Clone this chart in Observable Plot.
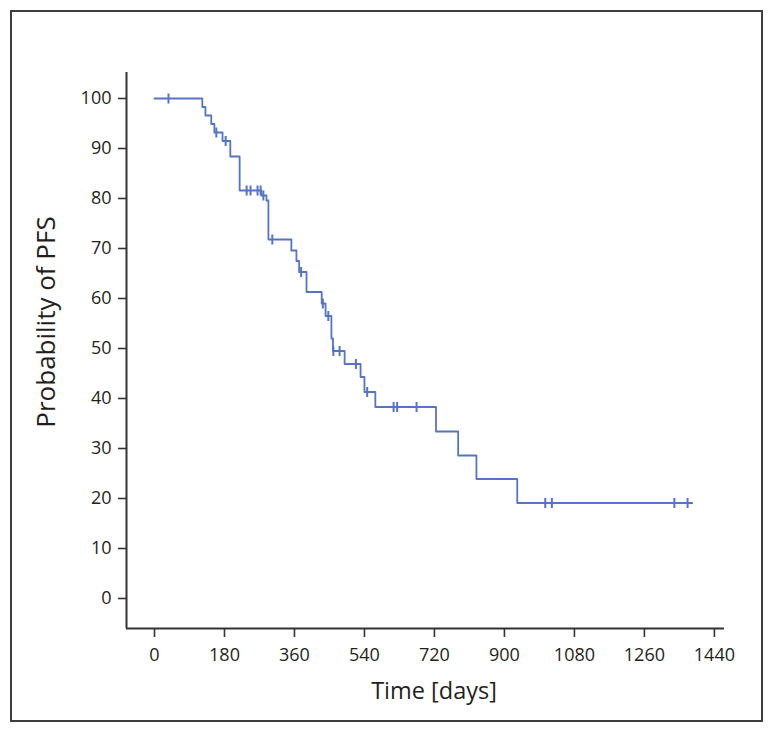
<!DOCTYPE html>
<html>
<head>
<meta charset="utf-8">
<script src="https://cdn.jsdelivr.net/npm/d3@7"></script>
<script src="https://cdn.jsdelivr.net/npm/@observablehq/plot@0.6"></script>
<style>
  html, body { margin: 0; padding: 0; background: #fff; }
  #wrap { position: relative; width: 773px; height: 734px; }
  #border { position: absolute; left: 10px; top: 10px; width: 753px; height: 712px; box-sizing: border-box; border: 2px solid #3d3d3d; pointer-events: none; }
  #chart { position: absolute; left: 0; top: 0; }
</style>
</head>
<body>
<div id="wrap"><div id="chart"></div><div id="border"></div></div>
<script>
// Kaplan–Meier step curve (time in days, PFS in %)
const stepDays = [0, 123, 131, 146, 154, 175, 195, 219, 275, 288, 293, 352, 365, 372, 391, 430, 440, 455, 459, 489, 530, 540, 568, 724, 781, 828, 933, 1383];
const stepPFS  = [100, 98.3, 96.6, 94.9, 93.2, 91.5, 88.4, 81.6, 80.6, 79.6, 71.8, 69.6, 67.5, 65.3, 61.3, 59.0, 56.5, 52.0, 49.5, 46.9, 44.3, 41.3, 38.3, 33.4, 28.6, 23.9, 19.1, 19.1];
// Censored observations
const censorDays = [36, 159, 183, 237, 247, 265, 273, 280, 303, 377, 433, 447, 460, 476, 518, 547, 615, 624, 674, 1005, 1022, 1337, 1371];
const censorPFS  = [100, 93.2, 91.5, 81.6, 81.6, 81.6, 81.6, 80.6, 71.8, 65.3, 59.0, 56.5, 49.5, 49.5, 46.9, 41.3, 38.3, 38.3, 38.3, 19.1, 19.1, 19.1, 19.1];
// Axis ticks
const xTicks = [0, 180, 360, 540, 720, 900, 1080, 1260, 1440];
const yTicks = [0, 10, 20, 30, 40, 50, 60, 70, 80, 90, 100];
const xTitle = "Time [days]";
const yTitle = "Probability of PFS";

const curve = stepDays.map((d, i) => ({day: d, pfs: stepPFS[i]}));
const censors = censorDays.map((d, i) => ({day: d, pfs: censorPFS[i]}));

const blue = "#5474c6";
const ink = "#231f20";
const font = "'Open Sans', 'Noto Sans', sans-serif";
const xMin = -72, xMax = 1466, yMin = -6, yMax = 105.2;

const vbar = { draw(ctx, size) { ctx.moveTo(0, -5); ctx.lineTo(0, 5); } };

const plot = Plot.plot({
  width: 773,
  height: 734,
  marginLeft: 126,
  marginRight: 49,
  marginTop: 72,
  marginBottom: 106,
  style: { fontFamily: font, background: "transparent", color: ink },
  x: { domain: [xMin, xMax] },
  y: { domain: [yMin, yMax] },
  marks: [
    Plot.ruleX([xMin], { y1: yMin, y2: yMax, stroke: "#333", strokeWidth: 2 }),
    Plot.ruleY([yMin], { x1: xMin, x2: xMax, stroke: "#333", strokeWidth: 2 }),
    Plot.axisX(xTicks, { tickSize: 9, tickPadding: 11, fontSize: 18, stroke: "#333", strokeWidth: 1.6, label: null, fill: ink, tickFormat: d => String(d) }),
    Plot.axisY(yTicks, { tickSize: 8, tickPadding: 7, fontSize: 18, stroke: "#333", strokeWidth: 1.6, label: null, fill: ink, tickFormat: d => String(d) }),
    Plot.line(curve, { x: "day", y: "pfs", curve: "step-after", stroke: blue, strokeWidth: 1.8 }),
    Plot.dot(censors, { x: "day", y: "pfs", symbol: vbar, stroke: blue, fill: "none", strokeWidth: 2, r: 5 })
  ]
});
document.getElementById("chart").appendChild(plot);

// axis titles as real text
const svg = d3.select(plot);
svg.append("text")
  .attr("x", 434).attr("y", 699)
  .attr("text-anchor", "middle")
  .attr("font-size", 23.5).attr("fill", ink)
  .attr("font-family", font)
  .text(xTitle);
svg.append("text")
  .attr("transform", "translate(55,322) rotate(-90)")
  .attr("text-anchor", "middle")
  .attr("font-size", 26).attr("fill", ink)
  .attr("font-family", font)
  .text(yTitle);
</script>
</body>
</html>
